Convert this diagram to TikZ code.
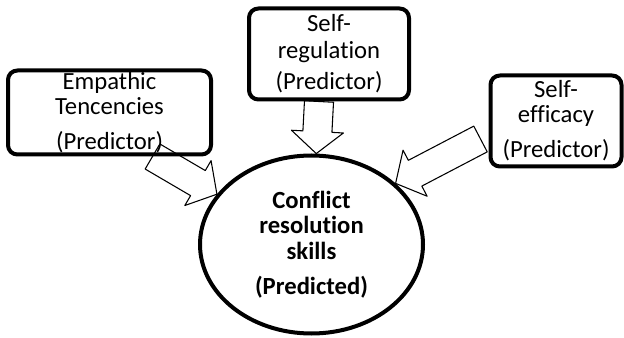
\documentclass[tikz,border=0pt]{standalone}
\usepackage{fontspec}
\setmainfont{Carlito}[Ligatures=CommonOff]
\usepackage{tikz}
\usetikzlibrary{positioning}
\usetikzlibrary{calc}
\usetikzlibrary{shapes.geometric}

\newcommand{\blockarrow}[3]{%
    \coordinate (#3base) at ($(#2)!16.5pt!(#1)$);
    \draw[bigarrow] ($(#1)!10.9pt!90:(#2)$) -- ($(#3base)!10.9pt!-90:(#1)$)
        -- ($(#3base)!19.5pt!-90:(#1)$) -- (#2) -- ($(#3base)!19.5pt!90:(#1)$)
        -- ($(#3base)!10.9pt!90:(#1)$) -- ($(#1)!10.9pt!-90:(#2)$) -- cycle;
}

\begin{document}
\begin{tikzpicture}[x=0.75pt, y=-0.75pt, line join=round,
        font=\fontsize{18.5}{18.75}\selectfont,
        predbox/.style={draw, line width=3pt, rounded corners=7pt, align=center, inner sep=0pt},
        outcome/.style={ellipse, draw, line width=3pt, align=center, inner sep=0pt,
            font=\fontsize{18.5}{18.75}\selectfont\bfseries},
        bigarrow/.style={draw, line width=0.8pt}]
            \useasboundingbox (0,0) rectangle (624,338);

            \node [outcome, minimum width=167.25pt, minimum height=133.5pt] (crs) at (311.5,244.5)
                {Conflict\\resolution\\[0.75pt]skills\\[7.5pt](Predicted)};
            \node [predbox, minimum width=152.25pt, minimum height=63pt] (emp) at (109.5,112.5)
                {Empathic\\Tencencies\\[7.5pt](Predictor)};
            \node [predbox, minimum width=120pt, minimum height=68.25pt] (selfreg) at (329,54)
                {Self-\\[1.5pt]regulation\\[4.5pt](Predictor)};
            \node [predbox, minimum width=98.25pt, minimum height=68.25pt] (selfeff) at (556,121)
                {Self-\\efficacy\\[7.5pt](Predictor)};

            \coordinate (empout) at ($(emp.south)+(43,0)$);
            \coordinate (regout) at ($(selfreg.south)+(-10,0)$);
            \coordinate (effout) at ($(selfeff.west)+(-8,18)$);

            \blockarrow{empout}{crs.152}{emp}
            \blockarrow{regout}{crs.87}{reg}
            \blockarrow{effout}{crs.36}{eff}
        \end{tikzpicture}
\end{document}
